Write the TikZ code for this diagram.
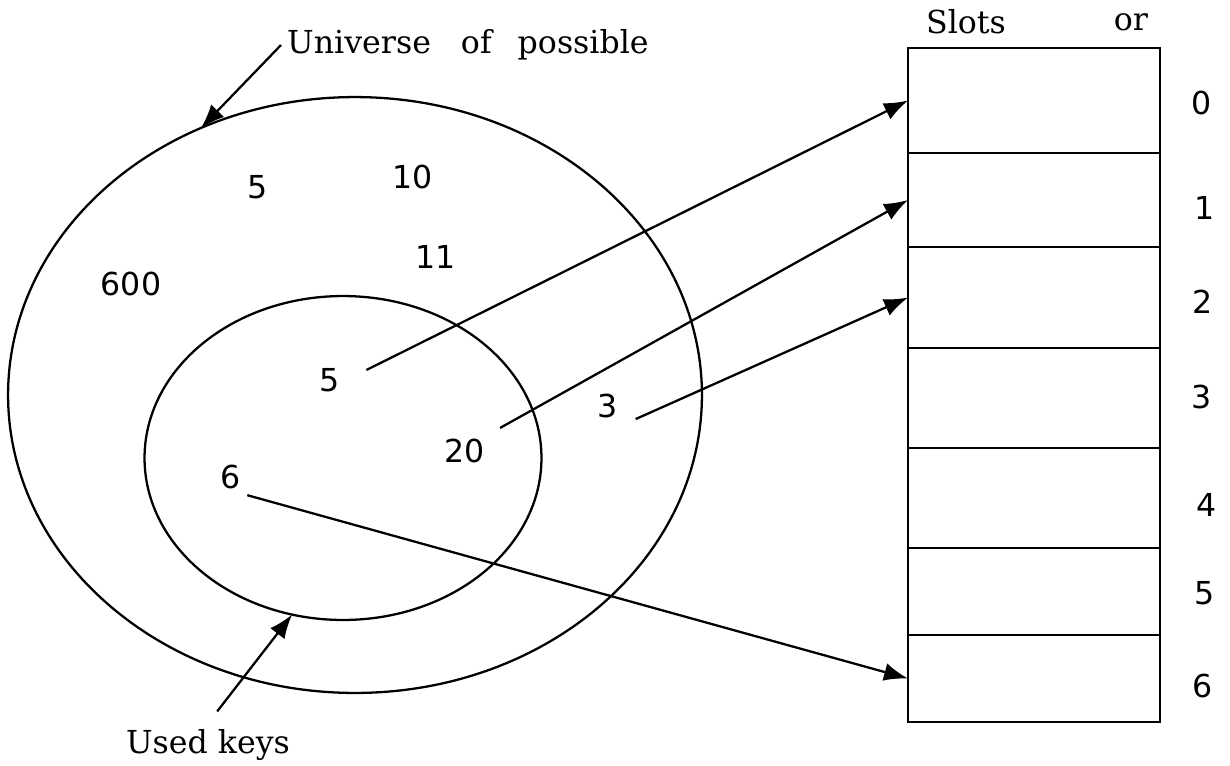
\documentclass[tikz,border=0pt]{standalone}
\usepackage{fontspec}
\setmainfont{DejaVu Serif}
\newfontfamily\numfont{DejaVu Sans}
\usetikzlibrary{arrows.meta,shapes.geometric}

\begin{document}
\begin{tikzpicture}[
  x=0.02cm, y=-0.02cm,
  every node/.style={font=\fontsize{18}{21}\selectfont, text centered},
  keynum/.style={font=\numfont\fontsize{18}{21}\selectfont},
  slot/.style={rectangle, draw, line width=1.3pt, minimum width=5.04cm, inner sep=0pt, outer sep=0pt},
  ring/.style={ellipse, draw, line width=1.3pt, inner sep=0pt, outer sep=0pt},
  arrow/.style={-{Latex[length=4.8mm, width=3.6mm]}, line width=1.3pt}
]
\useasboundingbox (0,0) rectangle (1230,765);

% Universe and used keys
\node[ring, minimum width=13.88cm, minimum height=11.92cm] (univ) at (355,395) {};
\node[ring, minimum width=7.94cm, minimum height=6.48cm] (used) at (343,458) {};

% Labels
\node[anchor=west] (utext) at (281,45) {Universe\hspace{0.6cm}of\hspace{0.52cm}possible};
\node (ukeys) at (208,745) {Used keys};
\node (slots) at (966,22) {Slots};
\node (or) at (1131,22) {or};

% Keys in the universe
\node[keynum] (u5) at (258,187) {5};
\node[keynum] (u10) at (413,177) {10};
\node[keynum] (u11) at (436,257) {11};
\node[keynum] (u600) at (131,284) {600};
\node[keynum] (k5) at (330,380) {5};
\node[keynum] (k3) at (608,406) {3};
\node[keynum] (k20) at (465,451) {20};
\node[keynum] (k6) at (231,477) {6};

% Slots of the table
\node[slot, minimum height=2.10cm] (s0) at (1034,100.5) {};
\node[slot, minimum height=1.88cm] (s1) at (1034,200) {};
\node[slot, minimum height=2.02cm] (s2) at (1034,297.5) {};
\node[slot, minimum height=2.00cm] (s3) at (1034,398) {};
\node[slot, minimum height=2.00cm] (s4) at (1034,498) {};
\node[slot, minimum height=1.74cm] (s5) at (1034,591.5) {};
\node[slot, minimum height=1.74cm] (s6) at (1034,678.5) {};

% Slot numbers
\node[keynum] (n0) at (1202,103) {0};
\node[keynum] (n1) at (1205,208) {1};
\node[keynum] (n2) at (1203,302) {2};
\node[keynum] (n3) at (1202,397) {3};
\node[keynum] (n4) at (1207,505) {4};
\node[keynum] (n5) at (1205,593) {5};
\node[keynum] (n6) at (1203,686) {6};

% Arrows
\draw[arrow] (utext.west) -- (univ.120);
\draw[arrow, shorten <=0.3cm] (ukeys.north) -- (used.252);
\draw[arrow, shorten <=0.45cm] (k5.east) -- (s0.west);
\draw[arrow, shorten <=0.2cm] (k20.north east) -- (s1.west);
\draw[arrow, shorten <=0.25cm] (k3.south east) -- (s2.west);
\draw[arrow] (k6.south east) -- (s6.west);

\end{tikzpicture}
\end{document}
